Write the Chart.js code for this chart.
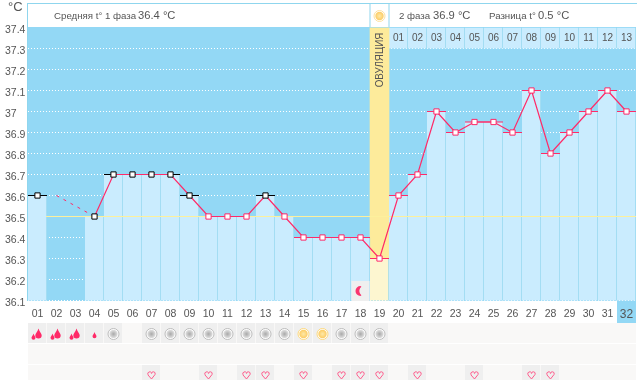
<!DOCTYPE html>
<html><head><meta charset="utf-8">
<style>html,body{margin:0;padding:0;background:#fff}canvas{display:block}</style>
<script src="https://cdn.jsdelivr.net/npm/chart.js@4"></script>
</head><body>
<canvas id="c" width="637" height="380"></canvas>
<script>
const days = ['01','02','03','04','05','06','07','08','09','10','11','12','13','14','15','16','17','18','19','20','21','22','23','24','25','26','27','28','29','30','31','32'];
const temps = [36.6,null,null,36.5,36.7,36.7,36.7,36.7,36.6,36.5,36.5,36.5,36.6,36.5,36.4,36.4,36.4,36.4,36.3,36.6,36.7,37.0,36.9,36.95,36.95,36.9,37.1,36.8,36.9,37.0,37.1,37.0];
const gapLine = [null,36.6,null,36.5];
const darkMarkers = ['01','04','05','06','07','08','09','13'];
const phaseTwoDays = ['20','21','22','23','24','25','26','27','28','29','30','31','32'];
const phaseTwoLabels = ['01','02','03','04','05','06','07','08','09','10','11','12','13'];
const ovulationDay = '19';
const coverLine = 36.5;
const bleeding = {'01':2,'02':2,'03':2,'04':1};
const greyDays = ['05','07','08','09','10','11','12','13','14','17','18','19'];
const sunDays = ['15','16'];
const heartDays = ['07','10','12','13','15','17','18','19','21','24','27','28'];
const moonDay = '18';
const headerLeft = 'Средняя t° 1 фаза';
const headerLeftVal = '36.4 °C';
const headerMid = '2 фаза';
const headerMidVal = '36.9 °C';
const headerRight = 'Разница t°';
const headerRightVal = '0.5 °C';
const ovulationLabel = 'ОВУЛЯЦИЯ';
const unitLabel = '°C';

const BG='#93d8f5', LIGHT='#caecfe', DIV='#8fd6ee', PINK='#ff2a68', TXT='#555';
const FONT='"Liberation Sans", Arial, sans-serif';
const isOv = d => d===ovulationDay;

function drop(g,x,y,s){g.beginPath();g.moveTo(x,y-s*1.7);g.bezierCurveTo(x+s*.3,y-s*.6,x+s,y-s*.1,x+s,y+s*.4);g.arc(x,y+s*.4,s,0,Math.PI);g.bezierCurveTo(x-s,y-s*.1,x-s*.3,y-s*.6,x,y-s*1.7);g.fill();}
function heart(g,x,y){g.beginPath();g.moveTo(x,y+4);g.lineTo(x-3.5,y);g.arc(x-1.8,y-1.3,1.9,Math.PI*.85,Math.PI*1.95);g.arc(x+1.8,y-1.3,1.9,Math.PI*1.05,Math.PI*.15);g.closePath();g.stroke();}
function disc(g,x,y,ring,mid,core){g.fillStyle='#fff';g.beginPath();g.arc(x,y,5.5,0,7);g.fill();g.strokeStyle=ring;g.lineWidth=1;g.beginPath();g.arc(x,y,5.5,0,7);g.stroke();const r=g.createRadialGradient(x,y,0,x,y,4.5);r.addColorStop(0,core);r.addColorStop(1,mid);g.fillStyle=r;g.beginPath();g.arc(x,y,4.2,0,7);g.fill();}

const furniture={id:'furniture',
 beforeDraw(ch){const g=ch.ctx,a=ch.chartArea,xs=ch.scales.x;
  g.save();
  g.fillStyle='#fff';g.fillRect(0,0,637,380);
  g.fillStyle=BG;g.fillRect(a.left,27,a.right-a.left,274);
  g.fillStyle=DIV;g.fillRect(27,3,1,298);g.fillRect(27,3,610,1);
  const x32=xs.getPixelForValue(31);
  g.fillStyle=BG;g.fillRect(x32-9.5,301,19,22);
  g.fillStyle='#f9f8f7';
  g.fillRect(a.left,323,a.right-a.left,20);g.fillRect(a.left,344,a.right-a.left,20);g.fillRect(a.left,365,a.right-a.left,15);
  g.restore();},
 afterDatasetDraw(ch,args){if(args.index!==2)return;const g=ch.ctx,a=ch.chartArea,y=Math.floor(ch.scales.y.getPixelForValue(coverLine));
  g.save();g.fillStyle='#fdf09c';g.fillRect(46,y,a.right-46,1);g.restore();},
 afterDraw(ch){const g=ch.ctx,xs=ch.scales.x,ys=ch.scales.y,a=ch.chartArea;
  const px=d=>xs.getPixelForValue(days.indexOf(d));
  g.save();
  g.fillStyle=DIV;
  const ox=px(ovulationDay);
  g.fillRect(ox-10,3,1,24);g.fillRect(ox+9,3,1,24);
  g.textBaseline='middle';g.textAlign='left';g.fillStyle=TXT;
  const t=(s,x,y,sz)=>{g.fillStyle=TXT;g.font=sz+'px '+FONT;g.fillText(s,x,y);};
  t(unitLabel,8,7,13);
  t(headerLeft,54,16,9.7);t(headerLeftVal,138,16,11.2);
  t(headerMid,399,16,9.7);t(headerMidVal,433,16,11.2);
  t(headerRight,489,16,9.7);t(headerRightVal,538,16,11.2);
  disc(g,ox,16,'#fde2a0','#fcc95e','#fde9a8');
  g.textAlign='center';
  phaseTwoDays.forEach((d,i)=>{t(phaseTwoLabels[i],px(d),38,10);});
  g.save();g.translate(ox,60);g.rotate(-Math.PI/2);g.scale(.85,1);g.fillStyle='#555';g.font='11.5px '+FONT;g.fillText(ovulationLabel,0,0);g.restore();
  const mx=px(moonDay);
  g.fillStyle='#efefef';g.fillRect(mx-9,281,18,20);
  g.fillStyle='#f9356f';g.beginPath();g.arc(mx,291,5,Math.PI*.5,Math.PI*1.5);g.arc(mx+4,291,5.2,Math.PI*1.3,Math.PI*.7,true);g.fill();
  g.fillStyle='#efefef';
  const cell=(d,y,h)=>g.fillRect(px(d)-9.5,y,18,h);
  Object.keys(bleeding).forEach(d=>cell(d,323,20));
  greyDays.concat(sunDays).forEach(d=>cell(d,323,20));
  heartDays.forEach(d=>cell(d,365,15));
  g.fillStyle='#ff2a68';
  Object.entries(bleeding).forEach(([d,n])=>{const x=px(d);
   if(n===2){drop(g,x+1,334,3.2);drop(g,x-4,337,2);}else drop(g,x,335.5,2);});
  greyDays.forEach(d=>disc(g,px(d),334,'#bdbdbd','#e6e6e6','#a9a9a9'));
  sunDays.forEach(d=>disc(g,px(d),334,'#fdd97e','#fcc95e','#fde9a8'));
  g.strokeStyle='#ff5c8c';g.lineWidth=1;
  heartDays.forEach(d=>heart(g,px(d),375));
  g.restore();}
};

new Chart(document.getElementById('c'),{
 type:'bar',
 plugins:[furniture],
 data:{labels:days,datasets:[
  {type:'line',label:'t°',data:temps,borderColor:PINK,borderWidth:1.2,tension:0,spanGaps:false,
   pointStyle:'rect',pointRadius:3.7,pointBorderWidth:1,pointBackgroundColor:'#fff',
   pointBorderColor:days.map(d=>darkMarkers.includes(d)?'#000':PINK),order:1},
  {type:'line',label:'gap',data:gapLine,borderColor:PINK,borderWidth:1,borderDash:[3,5],spanGaps:true,pointRadius:0,order:2},
  {type:'line',label:'caps',data:temps,showLine:false,pointStyle:'line',pointRadius:9.5,pointBorderWidth:1,
   pointBorderColor:days.map(d=>darkMarkers.includes(d)?'#000':PINK),order:3},
  {label:'temps',data:temps,grouped:false,barPercentage:1,categoryPercentage:1,
   backgroundColor:days.map(d=>isOv(d)?'#fdf6d0':LIGHT),borderColor:DIV,borderSkipped:false,
   borderWidth:{right:1,left:0,top:0,bottom:0},order:4},
  {label:'ovulation',data:days.map(d=>isOv(d)?[temps[days.indexOf(d)],37.4]:null),grouped:false,barPercentage:1,categoryPercentage:1,
   backgroundColor:'#fdeb9b',order:5},
  {label:'phase2',data:days.map(d=>phaseTwoDays.includes(d)?[37.3,37.4]:null),grouped:false,barPercentage:1,categoryPercentage:1,
   backgroundColor:LIGHT,borderColor:DIV,borderSkipped:false,borderWidth:{right:1,left:0,top:0,bottom:0},order:6}
 ]},
 options:{responsive:false,animation:false,
  layout:{autoPadding:false,padding:{top:27.5,right:1,left:5,bottom:0}},
  plugins:{legend:{display:false},tooltip:{enabled:false}},
  scales:{
   x:{offset:true,grid:{display:false,drawTicks:false},border:{display:false},
      afterFit(s){s.height=79.5;s.paddingLeft=0;s.paddingRight=0;},
      ticks:{autoSkip:false,maxRotation:0,padding:7,color:TXT,
        font:c=>({family:FONT,size:c.index===31?12:10.5})}},
   y:{min:36.1,max:37.4,
      afterFit(s){s.width=23;s.paddingTop=0;s.paddingBottom=0;},
      border:{display:false,dash:[1,2]},
      grid:{color:c=>c.index===13?'transparent':'#fff',lineWidth:1,drawTicks:false},
      ticks:{stepSize:0.1,autoSkip:false,padding:0,labelOffset:3,color:TXT,crossAlign:'far',
        font:{family:FONT,size:10.5},
        callback:v=>String(Math.round(v*10)/10)}}
  }}
});
</script></body></html>
